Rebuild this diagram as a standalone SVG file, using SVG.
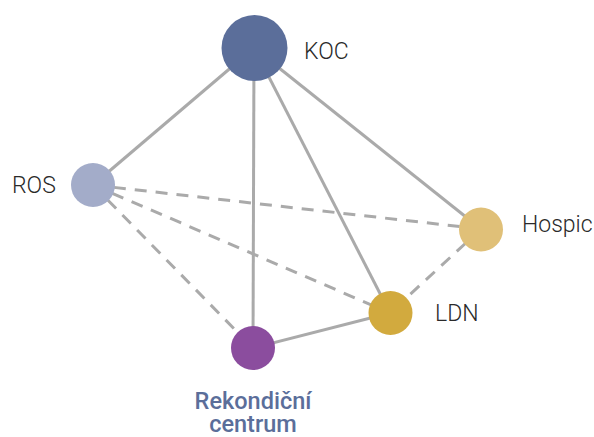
<svg xmlns="http://www.w3.org/2000/svg" width="594" height="437" viewBox="0 0 594 437">
<style>
.e{stroke:#aaaaaa;stroke-width:3;fill:none}
.d{stroke-dasharray:12 9}
.l{font-family:"Roboto","Liberation Sans",Arial,sans-serif;font-size:23px;font-weight:300;fill:#2a2a2a}
.b{font-family:"Roboto","Liberation Sans",Arial,sans-serif;font-size:23.5px;font-weight:500;fill:#5b6e9a;text-anchor:middle}
</style>
<rect width="594" height="437" fill="#ffffff"/>
<g id="connectors">
<line class="e" x1="254" y1="48" x2="93" y2="185"/>
<line class="e" x1="254" y1="48" x2="253" y2="348"/>
<line class="e" x1="254" y1="48" x2="390" y2="313"/>
<line class="e" x1="254" y1="48" x2="481" y2="229"/>
<line class="e" x1="390" y1="313" x2="253" y2="348"/>
<line class="e d" x1="93" y1="185" x2="481" y2="229"/>
<line class="e d" x1="93" y1="185" x2="390" y2="313"/>
<line class="e d" x1="93" y1="185" x2="253" y2="348"/>
<line class="e d" x1="481" y1="229" x2="390" y2="313"/>
</g>
<g id="koc"><circle cx="254.5" cy="48" r="33" fill="#5b6e9a"/><text class="l" x="304" y="59">KOC</text></g>
<g id="ros"><circle cx="93" cy="185" r="22" fill="#a3acc9"/><text class="l" x="12" y="193">ROS</text></g>
<g id="hospic"><circle cx="481" cy="229.5" r="22" fill="#e0c078"/><text class="l" x="522" y="232">Hospic</text></g>
<g id="ldn"><circle cx="390.5" cy="313" r="22" fill="#d2aa3e"/><text class="l" x="435" y="321">LDN</text></g>
<g id="rekond"><circle cx="253" cy="348" r="22" fill="#8b4d9e"/><text class="b" x="253" y="409">Rekondiční</text><text class="b" x="253" y="432">centrum</text></g>
</svg>
